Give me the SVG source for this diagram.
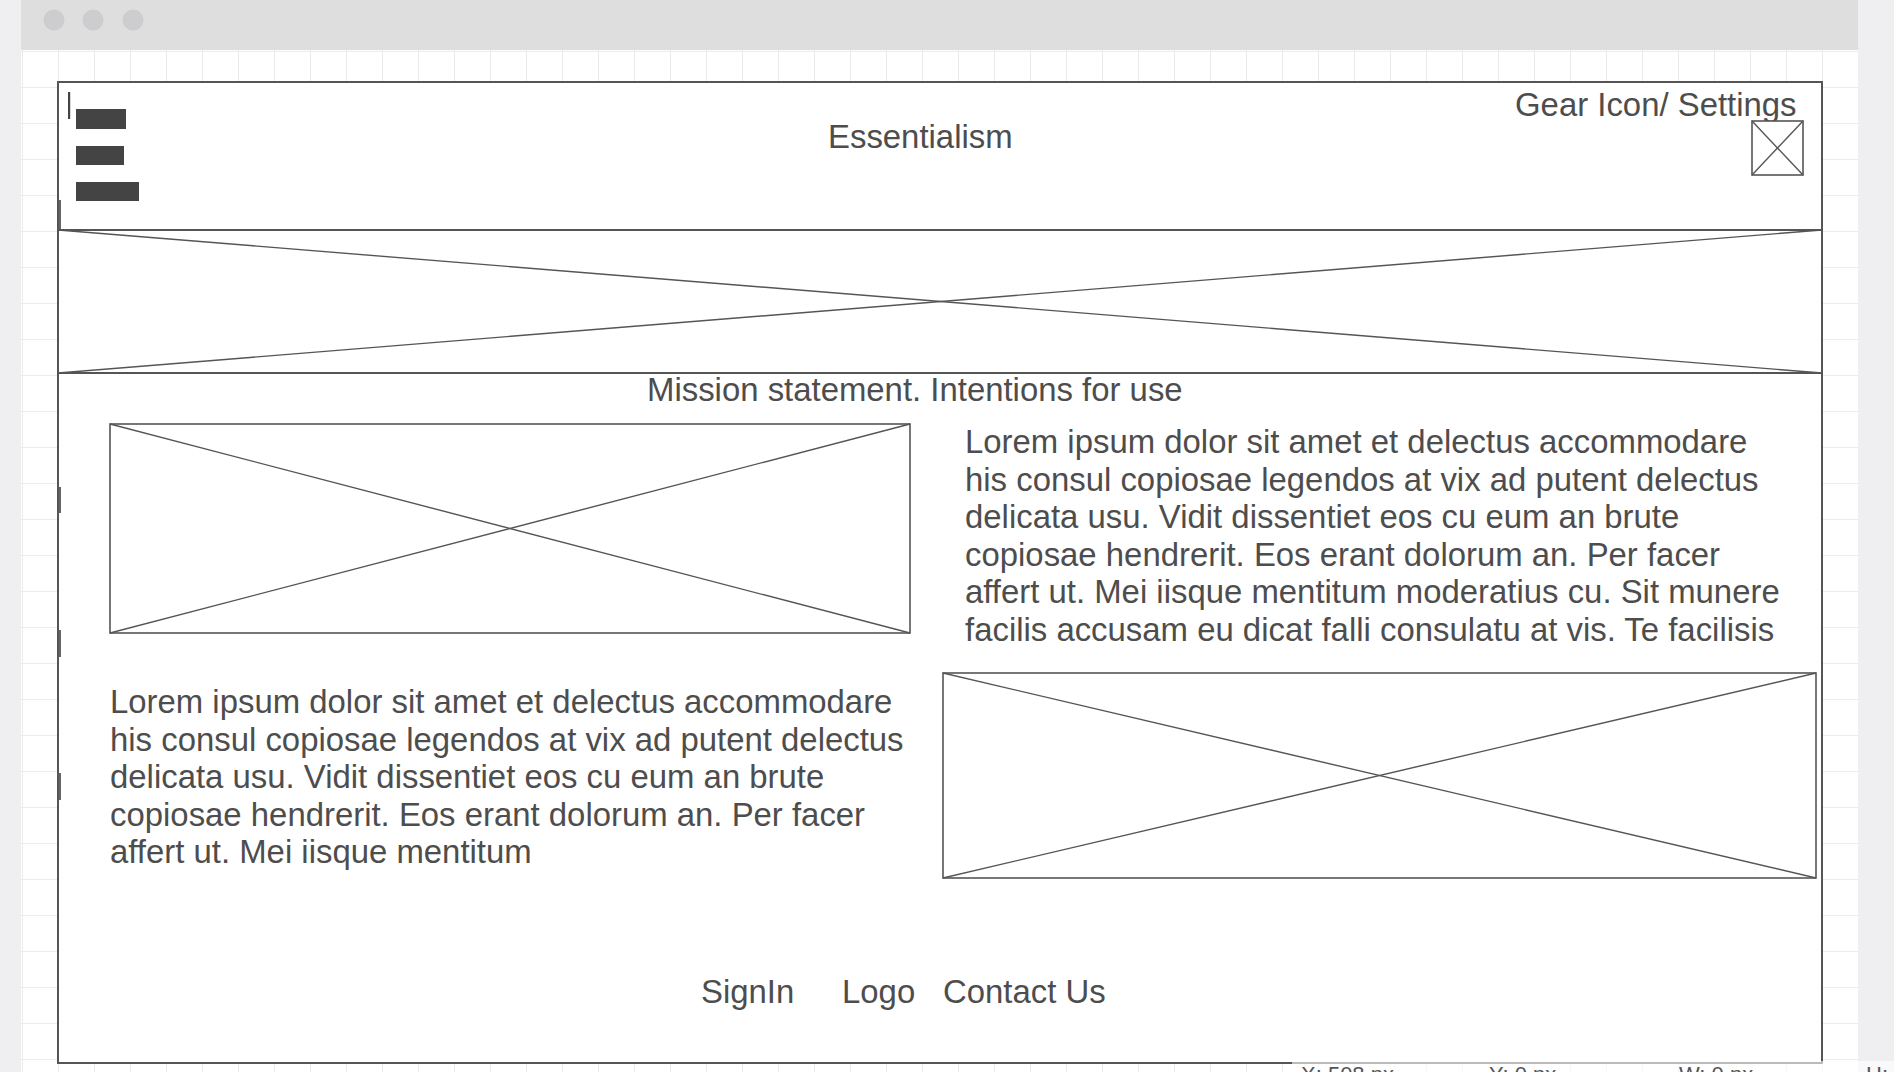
<svg xmlns="http://www.w3.org/2000/svg" width="1894" height="1072" viewBox="0 0 1894 1072">
<defs>
<pattern id="grid" x="22" y="15" width="36" height="36" patternUnits="userSpaceOnUse">
<path d="M0 0H36M0 0V36" fill="none" stroke="#e6e6e8" stroke-width="1.6"/>
</pattern>
<style>
.t{font-family:"Liberation Sans",Arial,sans-serif;font-size:32.9px;fill:#4d4d4d}
.ph{fill:#ffffff;stroke:#555555;stroke-width:1.6}
.x{stroke:#555555;stroke-width:1.4;fill:none}
.bar{fill:#444444}
.frame{fill:#ffffff;stroke:#555555;stroke-width:2}
.tick{fill:#666666}
.st{font-family:"Liberation Sans",Arial,sans-serif;font-size:22px;fill:#555555}
</style>
</defs>
<rect x="0" y="0" width="1894" height="1072" fill="#efeff1"/>
<rect x="21" y="50" width="1837" height="1022" fill="#ffffff"/>
<rect x="21" y="50" width="1837" height="1022" fill="url(#grid)"/>
<rect x="21" y="0" width="1837" height="50" fill="#dedede"/>
<g id="window-controls">
<circle cx="54" cy="20" r="10.5" fill="#cdcdcf"/>
<circle cx="93" cy="20" r="10.5" fill="#cdcdcf"/>
<circle cx="133" cy="20" r="10.5" fill="#cdcdcf"/>
</g>
<g id="page-frame">
<rect class="frame" x="58" y="82" width="1764" height="981"/>
<rect class="tick" x="59" y="200" width="2" height="29"/>
<rect class="tick" x="59" y="487" width="2" height="26"/>
<rect class="tick" x="59" y="630" width="2" height="27"/>
<rect class="tick" x="59" y="773" width="2" height="27"/>
</g>
<g id="header">
<line x1="58" y1="230" x2="1822" y2="230" stroke="#555555" stroke-width="2"/>
<rect x="68" y="92" width="2.2" height="27" fill="#444444"/>
<rect class="bar" x="76" y="109" width="50" height="20"/>
<rect class="bar" x="76" y="146" width="48" height="19"/>
<rect class="bar" x="76" y="182" width="63" height="19"/>
<text class="t" x="828" y="148">Essentialism</text>
<text class="t" x="1515" y="116">Gear Icon/ Settings</text>
</g>
<g id="gear-icon">
<rect class="ph" x="1752" y="121" width="51" height="54"/>
<line class="x" x1="1752" y1="121" x2="1803" y2="175"/>
<line class="x" x1="1803" y1="121" x2="1752" y2="175"/>
</g>
<g id="banner-image">
<line x1="58" y1="373" x2="1822" y2="373" stroke="#555555" stroke-width="2"/>
<line class="x" x1="58" y1="230" x2="1822" y2="373"/>
<line class="x" x1="1822" y1="230" x2="58" y2="373"/>
</g>
<g id="mission">
<text class="t" x="647" y="401">Mission statement. Intentions for use</text>
</g>
<g id="image-left">
<rect class="ph" x="110" y="424" width="800" height="209"/>
<line class="x" x1="110" y1="424" x2="910" y2="633"/>
<line class="x" x1="910" y1="424" x2="110" y2="633"/>
</g>
<g id="text-right">
<text class="t" x="965" y="453">Lorem ipsum dolor sit amet et delectus accommodare</text>
<text class="t" x="965" y="490.5">his consul copiosae legendos at vix ad putent delectus</text>
<text class="t" x="965" y="528">delicata usu. Vidit dissentiet eos cu eum an brute</text>
<text class="t" x="965" y="565.5">copiosae hendrerit. Eos erant dolorum an. Per facer</text>
<text class="t" x="965" y="603">affert ut. Mei iisque mentitum moderatius cu. Sit munere</text>
<text class="t" x="965" y="640.5">facilis accusam eu dicat falli consulatu at vis. Te facilisis</text>
</g>
<g id="text-left">
<text class="t" x="110" y="713">Lorem ipsum dolor sit amet et delectus accommodare</text>
<text class="t" x="110" y="750.5">his consul copiosae legendos at vix ad putent delectus</text>
<text class="t" x="110" y="788">delicata usu. Vidit dissentiet eos cu eum an brute</text>
<text class="t" x="110" y="825.5">copiosae hendrerit. Eos erant dolorum an. Per facer</text>
<text class="t" x="110" y="863">affert ut. Mei iisque mentitum</text>
</g>
<g id="image-right">
<rect class="ph" x="943" y="673" width="873" height="205"/>
<line class="x" x1="943" y1="673" x2="1816" y2="878"/>
<line class="x" x1="1816" y1="673" x2="943" y2="878"/>
</g>
<g id="footer">
<text class="t" x="701" y="1003">SignIn</text>
<text class="t" x="842" y="1003">Logo</text>
<text class="t" x="943" y="1003">Contact Us</text>
</g>
<g id="connectors"/>
<g id="status-bar">
<rect x="1292" y="1061" width="602" height="11" fill="#ffffff" opacity="0.6"/>
<text class="st" x="1301" y="1082">X: 508 px</text>
<text class="st" x="1489" y="1082">Y: 0 px</text>
<text class="st" x="1679" y="1082">W: 0 px</text>
<text class="st" x="1866" y="1082">H:</text>
</g>
</svg>
